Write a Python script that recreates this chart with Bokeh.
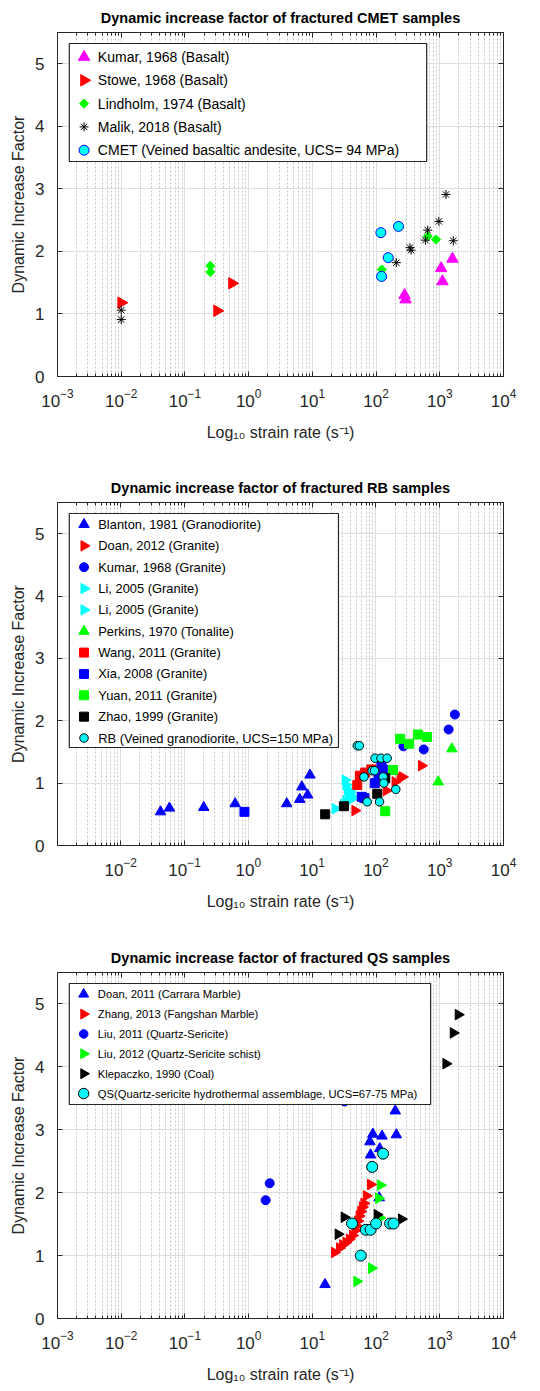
import numpy as np
from bokeh.plotting import figure
from bokeh.models import (FixedTicker, LogAxis, LinearAxis, LinearScale,
                          Range1d, LogTickFormatter)
from bokeh.core.properties import value
from bokeh.layouts import column
from bokeh.embed import file_html
from bokeh.resources import INLINE

FONT = "Liberation Sans"
AX = "#262626"

# ---------------- CMET samples ----------------
kumar_b_x = [280, 290, 1050, 1100, 1580]
kumar_b_y = [1.30, 1.23, 1.73, 1.52, 1.88]
stowe_x = [0.01, 0.32, 0.55]
stowe_y = [1.18, 1.05, 1.49]
lindholm_x = [0.25, 0.25, 123, 646, 876]
lindholm_y = [1.77, 1.67, 1.71, 2.24, 2.19]
malik_x = [0.01, 0.01, 208, 340, 355, 595, 646, 967, 1250, 1630]
malik_y = [1.06, 0.91, 1.82, 2.06, 2.02, 2.18, 2.34, 2.48, 2.91, 2.17]
cmet_x = [119, 122, 155, 225]
cmet_y = [2.30, 1.60, 1.90, 2.40]

# ---------------- RB samples ----------------
blanton_x = [0.042, 0.058, 0.20, 0.62, 4.0, 6.4, 6.9, 8.5, 9.25]
blanton_y = [0.54, 0.60, 0.61, 0.67, 0.67, 0.74, 0.94, 0.81, 1.13]
doan12_x = [47, 145, 200, 240, 260, 520]
doan12_y = [0.56, 0.88, 1.02, 1.08, 1.10, 1.28]
kumar_g_x = [270, 562, 1380, 1730]
kumar_g_y = [1.59, 1.54, 1.86, 2.10]
li_a_x = [23, 31, 34, 37, 40]
li_a_y = [0.59, 0.66, 0.72, 0.80, 0.86]
li_b_x = [33, 34, 36, 38, 40, 43]
li_b_y = [1.05, 0.97, 0.90, 0.82, 0.74, 0.78]
perkins_x = [950, 1550]
perkins_y = [1.02, 1.55]
wang_x = [51, 56, 68, 85]
wang_y = [0.97, 1.12, 1.17, 1.22]
xia_x = [0.87, 60, 66, 96, 110, 122, 128]
xia_y = [0.54, 0.78, 0.76, 1.00, 1.10, 1.30, 1.22]
yuan_x = [140, 185, 240, 330, 456, 630]
yuan_y = [0.55, 1.21, 1.71, 1.63, 1.78, 1.74]
zhao_x = [16, 31.5, 105, 140]
zhao_y = [0.50, 0.63, 0.83, 1.08]
rb_x = [51, 55, 65, 73, 87, 95, 97, 114, 120, 130, 133, 150, 205]
rb_y = [1.6, 1.6, 1.1, 0.7, 1.2, 1.2, 1.4, 0.7, 1.4, 1.1, 1.0, 1.4, 0.9]

# ---------------- QS samples ----------------
doan11_x = [15.8, 80, 82, 89, 114, 124, 200, 208, 112]
doan11_y = [0.54, 2.81, 2.60, 2.93, 2.70, 2.90, 3.30, 2.92, 1.92]
zhang_x = [22.3, 26.7, 30, 33.8, 38, 42.8, 47, 49.4, 51.8, 54.3, 57.6, 61, 64.6, 70.4, 82]
zhang_y = [1.05, 1.12, 1.17, 1.21, 1.26, 1.32, 1.40, 1.47, 1.55, 1.63, 1.70, 1.77, 1.83, 1.95, 2.13]
liu11_x = [1.85, 2.14, 32]
liu11_y = [1.88, 2.15, 3.45]
liu12_x = [50, 85, 110, 117, 115]
liu12_y = [0.59, 0.80, 1.91, 2.12, 1.60]
klep_x = [25.4, 31.6, 104, 250, 1250, 1630, 1950]
klep_y = [1.34, 1.61, 1.65, 1.58, 4.05, 4.54, 4.83]
qs_x = [42, 57.5, 69, 82, 100, 87, 129, 166, 188]
qs_y = [1.51, 1.00, 1.41, 1.41, 1.51, 2.41, 2.62, 1.51, 1.51]

y_ticks = [0, 1, 2, 3, 4, 5]
RIGHT = -np.pi / 2
DIAG = np.pi / 4

# marker styles: (marker, size, fill, line, angle)
UP = lambda c, s=11.0: ("triangle", s, c, c, 0.0)
RT = lambda c, s=11.0: ("triangle", s, c, c, RIGHT)
SQ = lambda c, s=9.0: ("square", s, c, c, 0.0)
DOT = lambda c, s=9.0, e=None: ("circle", s, c, e or c, 0.0)


def make_panel(title, height, left, right, top, bottom, xmin, first_tick):
    xt = FixedTicker(ticks=[10.0 ** k for k in range(first_tick, 5)],
                     minor_ticks=[m * 10.0 ** k for k in range(-3, 4) for m in range(2, 10)])
    yt = FixedTicker(ticks=y_ticks, minor_ticks=[])
    p = figure(width=540, height=height, x_axis_type="log",
               x_range=Range1d(xmin, 1e4), y_range=Range1d(0, 5.5),
               output_backend="svg", toolbar_location=None,
               min_border_left=left, min_border_right=right,
               min_border_top=top, min_border_bottom=bottom, title=title)
    p.title.align = "center"
    p.title.text_font = FONT
    p.title.text_font_size = "14.5px"
    p.title.text_font_style = "bold"
    p.title.text_color = "#000000"
    p.title.standoff = 14
    p.outline_line_color = AX
    p.outline_line_width = 1
    p.background_fill_color = "white"

    xa = p.xaxis[0]
    xa.ticker = xt
    xa.formatter = LogTickFormatter()
    xa.axis_label = "Log\u2081\u2080 strain rate (s\u207b\u00b9)"
    ya = p.yaxis[0]
    ya.ticker = yt
    ya.axis_label = "Dynamic Increase Factor"
    for ax in (xa, ya):
        ax.axis_line_color = AX
        ax.major_tick_line_color = AX
        ax.minor_tick_line_color = AX
        ax.major_tick_in = 5
        ax.major_tick_out = 0
        ax.minor_tick_in = 3
        ax.minor_tick_out = 0
        ax.major_label_text_font = FONT
        ax.major_label_text_font_size = "17px"
        ax.major_label_text_color = AX
        ax.axis_label_text_font = FONT
        ax.axis_label_text_font_size = "16px"
        ax.axis_label_text_font_style = "normal"
        ax.axis_label_text_color = AX
    xa.major_label_standoff = 12
    xa.axis_label_standoff = 14
    ya.major_label_standoff = 13
    ya.axis_label_standoff = 5

    # box ticks on the top and right edges (no labels there)
    top_ax = LogAxis(ticker=xt, major_label_text_font_size="1px", major_label_text_alpha=0,
                     major_label_standoff=0,
                     major_tick_in=5, major_tick_out=0, minor_tick_in=3, minor_tick_out=0,
                     axis_line_color=AX, major_tick_line_color=AX, minor_tick_line_color=AX)
    right_ax = LinearAxis(ticker=yt, major_label_text_font_size="1px", major_label_text_alpha=0,
                          major_label_standoff=0,
                          major_tick_in=5, major_tick_out=0, minor_tick_in=0, minor_tick_out=0,
                          axis_line_color=AX, major_tick_line_color=AX)
    p.add_layout(top_ax, "above")
    p.add_layout(right_ax, "right")

    p.xgrid.ticker = xt
    p.xgrid.grid_line_color = "#dedede"
    p.xgrid.minor_grid_line_color = "#c4c4c4"
    p.xgrid.minor_grid_line_dash = "2 2"
    p.ygrid.ticker = yt
    p.ygrid.grid_line_color = "#dedede"

    # pixel coordinate system of the frame, used by the legend box
    fw = 540 - left - right
    fh = height - top - bottom
    p.extra_x_ranges = {"px": Range1d(0, fw)}
    p.extra_y_ranges = {"px": Range1d(0, fh)}
    p.extra_x_scales = {"px": LinearScale()}
    p.extra_y_scales = {"px": LinearScale()}
    p.tags = [fw, fh]
    return p


def draw_series(p, series):
    for label, xs, ys, (marker, size, fill, line, angle) in series:
        p.scatter(xs, ys, marker=marker, size=size, fill_color=fill,
                  line_color=line, line_width=1, angle=angle)


def draw_legend(p, series, box, first_dy, row_h, glyph_dx, text_dx, font_size, scale=1.0):
    fw, fh = p.tags
    left, top, right, bottom = box
    p.quad(left=[left], right=[right], top=[fh - top], bottom=[fh - bottom],
           fill_color="white", line_color=AX, line_width=1.2,
           x_range_name="px", y_range_name="px")
    for i, (label, xs, ys, (marker, size, fill, line, angle)) in enumerate(series):
        yy = fh - (top + first_dy + i * row_h)
        p.scatter([left + glyph_dx], [yy], marker=marker, size=size * scale,
                  fill_color=fill, line_color=line, line_width=1, angle=angle,
                  x_range_name="px", y_range_name="px")
        p.text([left + text_dx], [yy], text=[label], text_baseline="middle",
               text_align="left", text_font=value(FONT), text_font_size=font_size,
               text_color="#000000", x_range_name="px", y_range_name="px")


# ---- panel 1 ----
p1 = make_panel("Dynamic increase factor of fractured CMET samples", 452, 50, 37, 32, 76, 1e-3, -3)
s1 = [
    ("Kumar, 1968 (Basalt)", kumar_b_x, kumar_b_y, UP("#ff00ff", 11.5)),
    ("Stowe, 1968 (Basalt)", stowe_x, stowe_y, RT("#ff0000", 11.5)),
    ("Lindholm, 1974 (Basalt)", lindholm_x, lindholm_y, ("square", 6.5, "#00ff00", "#00ff00", DIAG)),
    ("Malik, 2018 (Basalt)", malik_x, malik_y, ("asterisk", 9, None, "#000000", 0.0)),
    ("CMET (Veined basaltic andesite, UCS= 94 MPa)", cmet_x, cmet_y, DOT("#00ffff", 10, "#0000ff")),
]
draw_series(p1, s1)
draw_legend(p1, s1, (12, 11, 375, 129), 13.5, 23.3, 15, 29, "14px")

# ---- panel 2 ----
p2 = make_panel("Dynamic increase factor of fractured RB samples", 473, 57, 29, 50, 80, 1.02e-3, -2)
s2 = [
    ("Blanton, 1981 (Granodiorite)", blanton_x, blanton_y, UP("#0000ff", 10.5)),
    ("Doan, 2012 (Granite)", doan12_x, doan12_y, RT("#ff0000", 10.5)),
    ("Kumar, 1968 (Granite)", kumar_g_x, kumar_g_y, DOT("#0000ff", 9)),
    ("Li, 2005 (Granite)", li_a_x, li_a_y, RT("#00ffff", 10.5)),
    ("Li, 2005 (Granite)", li_b_x, li_b_y, RT("#00ffff", 10.5)),
    ("Perkins, 1970 (Tonalite)", perkins_x, perkins_y, UP("#00ff00", 10.5)),
    ("Wang, 2011 (Granite)", wang_x, wang_y, SQ("#ff0000")),
    ("Xia, 2008 (Granite)", xia_x, xia_y, SQ("#0000ff")),
    ("Yuan, 2011 (Granite)", yuan_x, yuan_y, SQ("#00ff00")),
    ("Zhao, 1999 (Granite)", zhao_x, zhao_y, SQ("#000000")),
    ("RB (Veined granodiorite, UCS=150 MPa)", rb_x, rb_y, DOT("#00ffff", 8.5, "#000000")),
]
draw_series(p2, s2)
draw_legend(p2, s2, (12, 11, 286, 245), 11, 21.35, 15, 29.5, "12.9px")

# ---- panel 3 ----
p3 = make_panel("Dynamic increase factor of fractured QS samples", 466, 50, 37, 47, 73, 1e-3, -3)
s3 = [
    ("Doan, 2011 (Carrara Marble)", doan11_x, doan11_y, UP("#0000ff", 10.5)),
    ("Zhang, 2013 (Fangshan Marble)", zhang_x, zhang_y, RT("#ff0000", 10.5)),
    ("Liu, 2011 (Quartz-Sericite)", liu11_x, liu11_y, DOT("#0000ff", 9)),
    ("Liu, 2012 (Quartz-Sericite schist)", liu12_x, liu12_y, RT("#00ff00", 10.5)),
    ("Klepaczko, 1990 (Coal)", klep_x, klep_y, RT("#000000", 10.5)),
    ("QS(Quartz-sericite hydrothermal assemblage, UCS=67-75 MPa)", qs_x, qs_y, DOT("#00ffff", 11, "#000000")),
]
draw_series(p3, s3)
draw_legend(p3, s3, (12, 11, 379, 132), 10.7, 19.87, 14.6, 29, "11.2px", scale=0.95)

layout = column(p1, p2, p3, spacing=0)
open("out.html", "w").write(file_html(layout, INLINE))
